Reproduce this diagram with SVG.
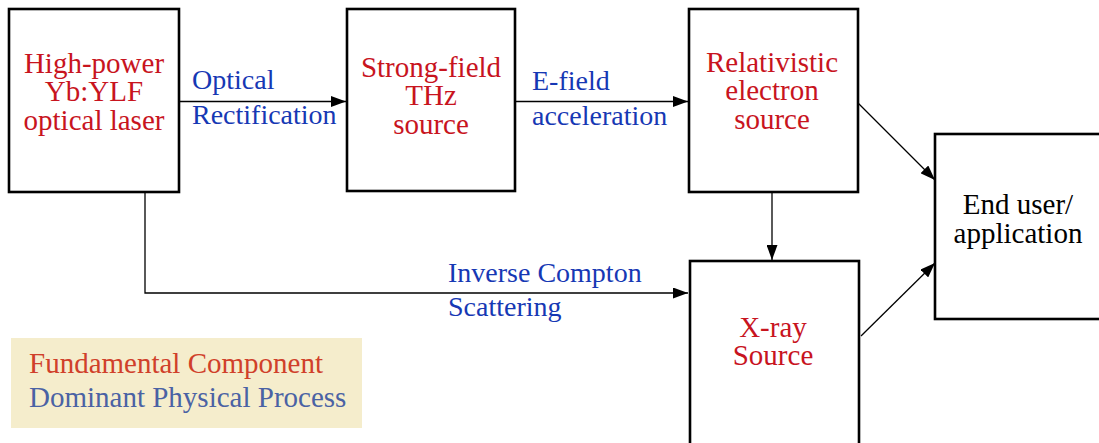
<svg xmlns="http://www.w3.org/2000/svg" width="1099" height="443" viewBox="0 0 1099 443">
<defs>
<style>
.box{fill:#fff;stroke:#000;stroke-width:2.6}
.t{font-family:"Liberation Serif","DejaVu Serif",serif;font-size:29px;text-anchor:middle}
.red{fill:#c8141e}
.lbl{font-family:"Liberation Serif","DejaVu Serif",serif;font-size:28px;fill:#1638b4}
.con{fill:none;stroke:#000;stroke-width:1.3}
.leg{font-family:"Liberation Serif","DejaVu Serif",serif;font-size:29px}
</style>
<marker id="ah" markerUnits="userSpaceOnUse" markerWidth="15" markerHeight="11" refX="15" refY="5.5" orient="auto">
<path d="M0,0 L15,5.5 L0,11 z" fill="#000"/>
</marker>
</defs>
<rect width="1099" height="443" fill="#fff"/>
<g id="connectors">
<line class="con" x1="179" y1="101.5" x2="346" y2="101.5" marker-end="url(#ah)"/>
<line class="con" x1="515" y1="101.5" x2="688" y2="101.5" marker-end="url(#ah)"/>
<line class="con" x1="772" y1="192" x2="772" y2="260" marker-end="url(#ah)"/>
<line class="con" x1="858" y1="103" x2="935" y2="180" marker-end="url(#ah)"/>
<line class="con" x1="861" y1="336" x2="935" y2="263" marker-end="url(#ah)"/>
<path class="con" d="M145,193 V293 H688" marker-end="url(#ah)"/>
<text class="lbl" x="192" y="89">Optical</text>
<text class="lbl" x="192" y="124">Rectification</text>
<text class="lbl" x="532" y="90">E-field</text>
<text class="lbl" x="532" y="125">acceleration</text>
<text class="lbl" x="448" y="282">Inverse Compton</text>
<text class="lbl" x="448" y="316">Scattering</text>
</g>
<g id="laser">
<rect class="box" x="9" y="9" width="170" height="183"/>
<text class="t red" x="94" y="73">High-power</text>
<text class="t red" x="94" y="101">Yb:YLF</text>
<text class="t red" x="94" y="130">optical laser</text>
</g>
<g id="thz">
<rect class="box" x="347" y="9" width="168" height="182"/>
<text class="t red" x="431" y="77">Strong-field</text>
<text class="t red" x="431" y="105">THz</text>
<text class="t red" x="431" y="134">source</text>
</g>
<g id="electron">
<rect class="box" x="689" y="9" width="169" height="183"/>
<text class="t red" x="772" y="72">Relativistic</text>
<text class="t red" x="772" y="100">electron</text>
<text class="t red" x="772" y="129">source</text>
</g>
<g id="xray">
<rect class="box" x="690" y="261" width="169" height="200"/>
<text class="t red" x="773" y="337">X-ray</text>
<text class="t red" x="773" y="365">Source</text>
</g>
<g id="enduser">
<rect class="box" x="935" y="134" width="180" height="185"/>
<text class="t" x="1018" y="214" fill="#000">End user/</text>
<text class="t" x="1018" y="243" fill="#000">application</text>
</g>
<g id="legend">
<rect x="11" y="338" width="351" height="90" fill="#f5edcc"/>
<text class="leg" x="29" y="373" fill="#d0402a">Fundamental Component</text>
<text class="leg" x="29" y="407" fill="#4a62a4">Dominant Physical Process</text>
</g>
</svg>
